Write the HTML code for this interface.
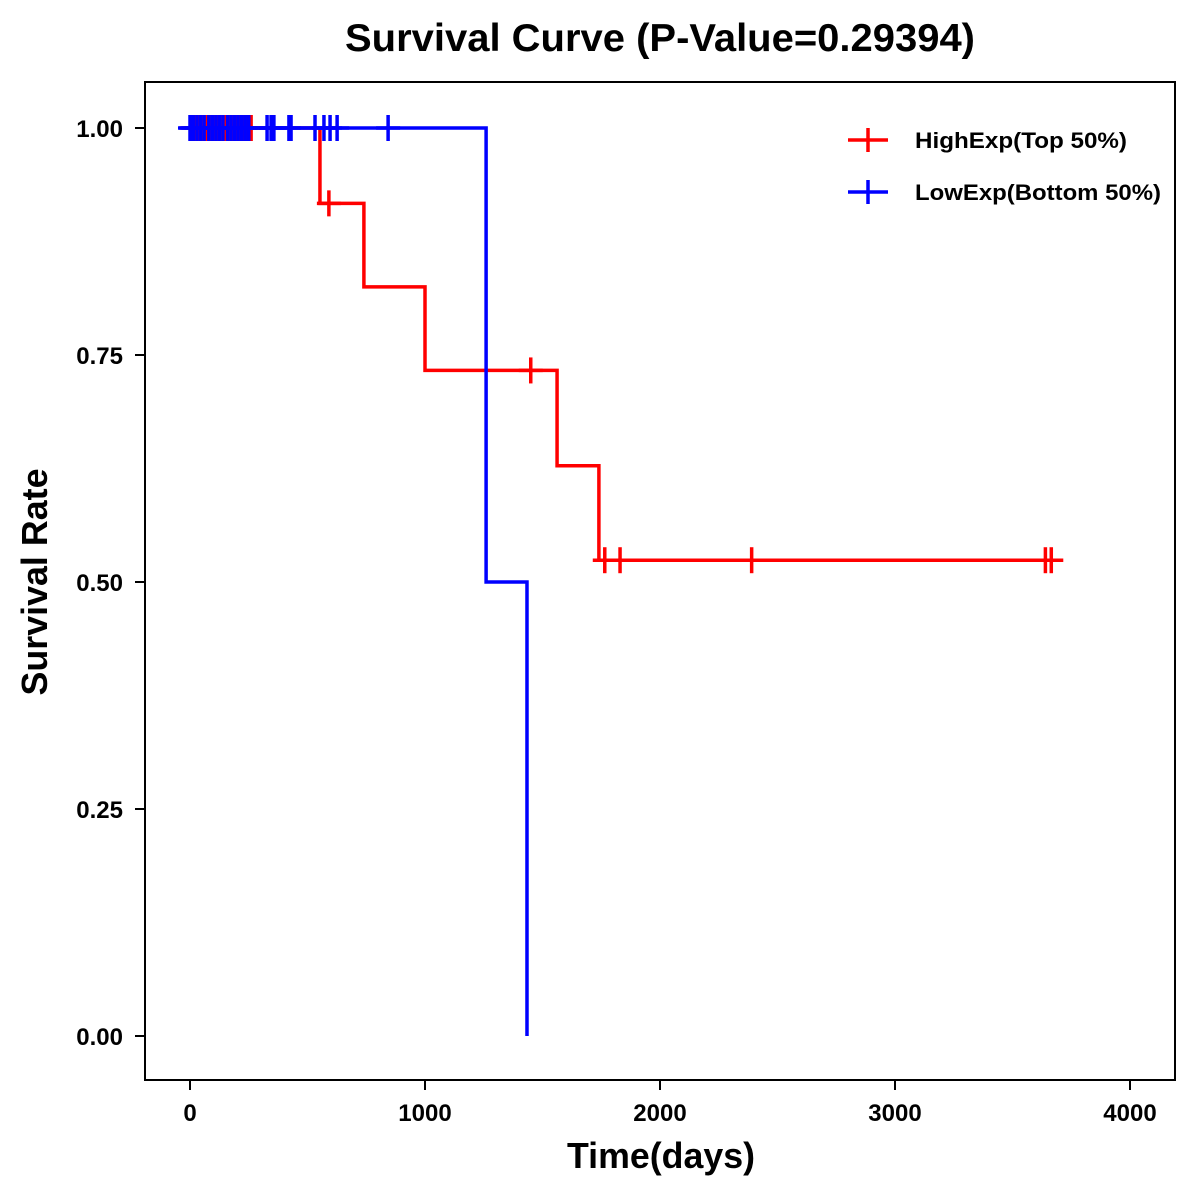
<!DOCTYPE html>
<html><head><meta charset="utf-8"><style>
html,body{margin:0;padding:0;background:#fff;}
svg{display:block;font-family:"Liberation Sans",Arial,sans-serif;}
</style></head><body>
<svg id="chart" width="1200" height="1200" xmlns="http://www.w3.org/2000/svg">
<rect x="0" y="0" width="1200" height="1200" fill="#fff"/>
<text x="660" y="51" text-anchor="middle" font-size="39" font-weight="bold" textLength="630" lengthAdjust="spacingAndGlyphs">Survival Curve (P-Value=0.29394)</text>
<rect x="145" y="82" width="1030" height="998" fill="none" stroke="#000" stroke-width="2"/>
<g id="axes"></g>
<g id="series"></g>
<text x="661" y="1168" text-anchor="middle" font-size="36" font-weight="bold" textLength="188" lengthAdjust="spacingAndGlyphs">Time(days)</text>
<text transform="translate(47,582) rotate(-90)" text-anchor="middle" font-size="36" font-weight="bold" textLength="227" lengthAdjust="spacingAndGlyphs">Survival Rate</text>
<g>
<g>
<line x1="848" y1="140" x2="888" y2="140" stroke="#f00" stroke-width="3.5"/>
<line x1="868" y1="128" x2="868" y2="152" stroke="#f00" stroke-width="3.5"/>
<text x="915" y="148" font-size="22" font-weight="bold" textLength="212" lengthAdjust="spacingAndGlyphs">HighExp(Top 50%)</text>
</g>
<g>
<line x1="848" y1="192" x2="888" y2="192" stroke="#00f" stroke-width="3.5"/>
<line x1="868" y1="180" x2="868" y2="204" stroke="#00f" stroke-width="3.5"/>
<text x="915" y="200" font-size="22" font-weight="bold" textLength="246" lengthAdjust="spacingAndGlyphs">LowExp(Bottom 50%)</text>
</g>
</g>
</svg>
<script>
const xTicks = [0, 1000, 2000, 3000, 4000];
const yTicks = [0, 0.25, 0.5, 0.75, 1.0];
const yTickLabels = ["0.00", "0.25", "0.50", "0.75", "1.00"];
const highTimes = [0, 553, 740, 1000, 1562, 1740, 3715];
const highSurv = [1, 0.917, 0.825, 0.733, 0.628, 0.524, 0.524];
const highCensor = [10, 25, 40, 55, 70, 85, 100, 115, 130, 150, 165, 180, 200, 215, 230, 245, 260, 591, 1450, 1765, 1830, 2390, 3640, 3665];
const lowTimes = [0, 1260, 1434, 1434];
const lowSurv = [1, 0.5, 0, 0];
const lowCensor = [0, 5, 15, 30, 45, 60, 80, 95, 110, 125, 140, 160, 175, 190, 205, 220, 235, 250, 328, 345, 357, 421, 430, 532, 570, 596, 626, 843];

const X = t => 190 + t * (940 / 4000);
const Y = s => 1036 - s * 908;
const NS = "http://www.w3.org/2000/svg";
const axes = document.getElementById('axes');
const series = document.getElementById('series');
function mk(tag, attrs, parent) {
  const e = document.createElementNS(NS, tag);
  for (const k in attrs) e.setAttribute(k, attrs[k]);
  parent.appendChild(e);
  return e;
}
xTicks.forEach(t => {
  const g = mk('g', {}, axes);
  
  
  mk('line', {x1: X(t), x2: X(t), y1: 1080, y2: 1090, stroke: '#000', 'stroke-width': 2}, g);
  const tx = mk('text', {x: X(t), y: 1121, 'text-anchor': 'middle', 'font-size': 24, 'font-weight': 'bold'}, g);
  tx.textContent = t;
});
yTicks.forEach((v, i) => {
  const g = mk('g', {}, axes);
  
  
  mk('line', {x1: 135, x2: 145, y1: Y(v), y2: Y(v), stroke: '#000', 'stroke-width': 2}, g);
  const tx = mk('text', {x: 123, y: Y(v) + 9, 'text-anchor': 'end', 'font-size': 24, 'font-weight': 'bold'}, g);
  tx.textContent = yTickLabels[i];
});
function stepPath(times, surv) {
  let d = 'M' + X(times[0]) + ' ' + Y(surv[0]);
  for (let i = 1; i < times.length; i++) {
    d += ' H' + X(times[i]) + ' V' + Y(surv[i]);
  }
  return d;
}
function survAt(times, surv, t) {
  let s = surv[0];
  for (let i = 1; i < times.length; i++) if (times[i] <= t) s = surv[i];
  return s;
}
function drawSeries(name, times, surv, cens, color) {
  const g = mk('g', {}, series);
  
  
  const p = mk('path', {d: stepPath(times, surv), fill: 'none', stroke: color, 'stroke-width': 3.5}, g);
  
  
  cens.forEach(t => {
    const s = survAt(times, surv, t);
    const c = mk('g', {}, g);
    
    
    mk('line', {x1: X(t) - 12, x2: X(t) + 12, y1: Y(s), y2: Y(s), stroke: color, 'stroke-width': 3.5}, c);
    mk('line', {x1: X(t), x2: X(t), y1: Y(s) - 13, y2: Y(s) + 13, stroke: color, 'stroke-width': 3.5}, c);
  });
}
drawSeries('high-exp', highTimes, highSurv, highCensor, '#ff0000');
drawSeries('low-exp', lowTimes, lowSurv, lowCensor, '#0000ff');
</script>
</body></html>
